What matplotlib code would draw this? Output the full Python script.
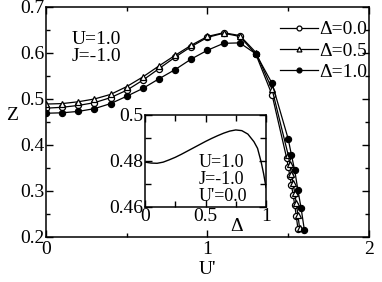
import numpy as np
import matplotlib
matplotlib.use('Agg')
import matplotlib.pyplot as plt
from matplotlib.ticker import MultipleLocator

plt.rcParams['font.family'] = ['Liberation Serif', 'DejaVu Serif']
plt.rcParams['font.size'] = 14

# main panel: Z vs U' for three Delta values
u_coarse = [0.0, 0.1, 0.2, 0.3, 0.4, 0.5, 0.6, 0.7, 0.8, 0.9, 1.0, 1.1, 1.2, 1.3, 1.4]

u_d00 = u_coarse + [1.49, 1.50, 1.51, 1.52, 1.53, 1.54, 1.55, 1.56]
z_d00 = [0.480, 0.482, 0.486, 0.492, 0.503, 0.519, 0.541, 0.566, 0.591, 0.614,
         0.634, 0.643, 0.636, 0.597, 0.509,
         0.372, 0.352, 0.333, 0.313, 0.292, 0.270, 0.245, 0.218]

u_d05 = u_coarse + [1.50, 1.51, 1.52, 1.53, 1.54, 1.55, 1.56, 1.57]
z_d05 = [0.489, 0.490, 0.494, 0.500, 0.510, 0.527, 0.548, 0.572, 0.595, 0.617,
         0.636, 0.644, 0.638, 0.601, 0.521,
         0.378, 0.358, 0.338, 0.317, 0.296, 0.273, 0.248, 0.220]

u_d10 = u_coarse + [1.50, 1.52, 1.54, 1.56, 1.58, 1.60]
z_d10 = [0.469, 0.470, 0.473, 0.479, 0.490, 0.506, 0.523, 0.544, 0.564, 0.587,
         0.606, 0.621, 0.622, 0.598, 0.534,
         0.413, 0.378, 0.345, 0.302, 0.262, 0.215]

# inset: Z vs Delta at U'=0
delta = [0.0, 0.05, 0.1, 0.15, 0.2, 0.25, 0.3, 0.35, 0.4, 0.45, 0.5, 0.55,
         0.6, 0.65, 0.7, 0.75, 0.8, 0.85, 0.9, 0.93, 0.96, 0.98, 1.0]
z_delta = [0.4795, 0.4791, 0.4790, 0.4795, 0.4805, 0.4816, 0.4829, 0.4843,
           0.4857, 0.4871, 0.4885, 0.4898, 0.4910, 0.4921, 0.4930, 0.4935,
           0.4932, 0.4917, 0.4884, 0.4855, 0.4795, 0.4745, 0.4685]

fig = plt.figure(figsize=(3.82, 2.82), dpi=100)
ax = fig.add_axes([0.1204, 0.1596, 0.8455, 0.8156])

ms = 4.4
ax.plot(u_d00, z_d00, '-o', color='k', lw=0.9, ms=ms, mfc='white', mec='k', mew=0.9, label='Δ=0.0')
ax.plot(u_d05, z_d05, '-^', color='k', lw=0.9, ms=ms, mfc='white', mec='k', mew=0.9, label='Δ=0.5')
ax.plot(u_d10, z_d10, '-o', color='k', lw=0.9, ms=ms, mfc='k', mec='k', mew=0.9, label='Δ=1.0')

ax.set_xlim(0, 2)
ax.set_ylim(0.2, 0.7)
ax.xaxis.set_major_locator(MultipleLocator(1))
ax.xaxis.set_minor_locator(MultipleLocator(0.5))
ax.yaxis.set_minor_locator(MultipleLocator(0.05))
ax.set_yticks([0.2, 0.3, 0.4, 0.5, 0.6, 0.7])
ax.set_yticklabels(['0.2', '0.3', '0.4', '0.5', '0.6', '0.7'])
ax.tick_params(which='both', direction='in', top=True, right=True, width=1)
ax.tick_params(which='major', length=5)
ax.tick_params(which='minor', length=3)
ax.tick_params(axis='y', pad=1)
ax.tick_params(axis='x', pad=3)
for s in ax.spines.values():
    s.set_linewidth(1.1)

ax.set_xlabel("U'", labelpad=2)
ax.set_ylabel('Z', rotation=0)
ax.yaxis.set_label_coords(-0.105, 0.49)

ax.text(0.08, 0.895, 'U=1.0\nJ=-1.0', transform=ax.transAxes, va='top', ha='left',
        linespacing=1.0)

ax.legend(loc='upper right', bbox_to_anchor=(0.995, 0.94), frameon=False,
          handlelength=1.95, handletextpad=0.05, labelspacing=0.18,
          borderpad=0, borderaxespad=0, markerscale=0.8)

# inset
axi = fig.add_axes([0.3796, 0.266, 0.3168, 0.3262])
axi.plot(delta, z_delta, '-', color='k', lw=1.0)
axi.set_xlim(0, 1)
axi.set_ylim(0.46, 0.5)
axi.set_xticks([0, 0.5, 1])
axi.set_xticklabels(['0', '0.5', '1'])
axi.set_yticks([0.46, 0.48, 0.5])
axi.set_yticklabels(['0.46', '0.48', '0.5'])
axi.xaxis.set_minor_locator(MultipleLocator(0.25))
axi.yaxis.set_minor_locator(MultipleLocator(0.01))
axi.tick_params(which='both', direction='in', top=True, right=True, width=1)
axi.tick_params(which='major', length=5)
axi.tick_params(which='minor', length=4)
axi.tick_params(axis='y', pad=1)
axi.tick_params(axis='x', pad=1)
for s in axi.spines.values():
    s.set_linewidth(1.1)
axi.text(0.76, -0.12, 'Δ', transform=axi.transAxes, ha='center', va='top')
axi.text(0.44, 0.58, "U=1.0\nJ=-1.0\nU'=0.0", transform=axi.transAxes,
         va='top', ha='left', fontsize=13, linespacing=1.0)

fig.savefig('out.png', dpi=100)
